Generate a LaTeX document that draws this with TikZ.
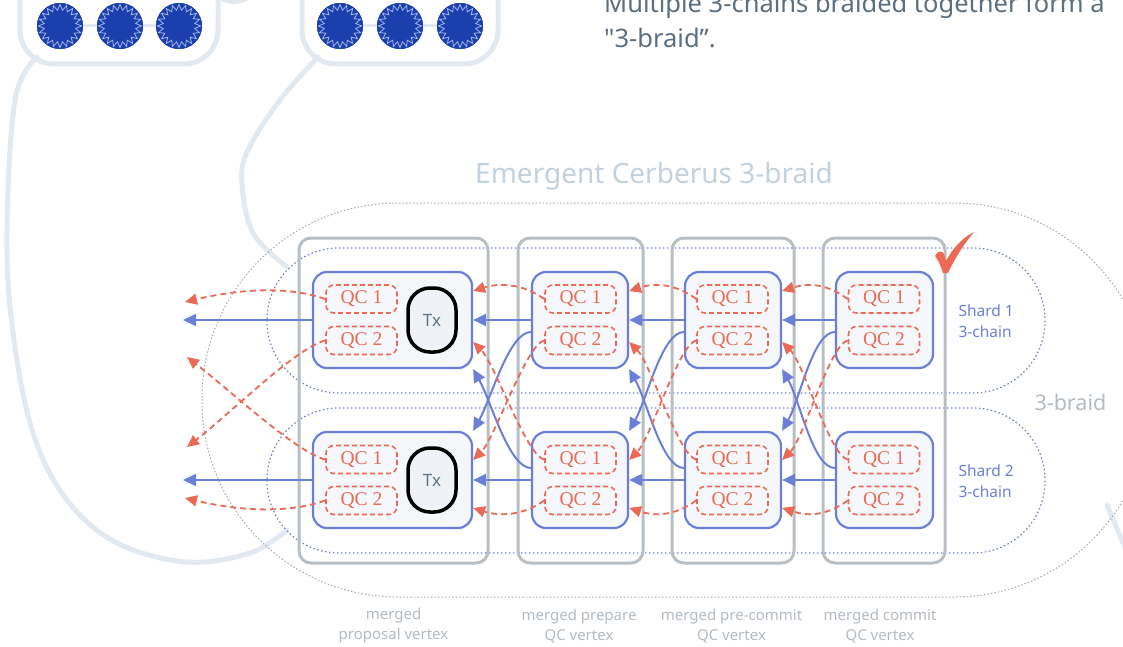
\documentclass[tikz,border=0pt]{standalone}
\usepackage{fontspec}
\setmainfont{Liberation Serif}
\newfontfamily\plex{Noto Sans}
\usetikzlibrary{arrows.meta,calc,shapes.geometric}
\definecolor{cblue}{HTML}{6B7FD7}
\definecolor{cred}{HTML}{EA6A55}
\definecolor{cgrey}{HTML}{B7BFC5}
\definecolor{cfill}{HTML}{F5F7FA}
\definecolor{txfill}{HTML}{EEF2F6}
\definecolor{txtxt}{HTML}{5D7383}
\definecolor{dotgrey}{HTML}{A3AAB0}
\definecolor{ctitle}{HTML}{C3D1DC}
\definecolor{clabel}{HTML}{B3BBC2}
\definecolor{ctop}{HTML}{5B6F80}
\definecolor{cline}{HTML}{E2E9F1}
\definecolor{cdisc}{HTML}{1B40AE}
\definecolor{cstar}{HTML}{A5B6EA}
\tikzset{
 colbox/.style={draw=cgrey, line width=3pt, rounded corners=12pt, minimum width=122pt, minimum height=325pt, inner sep=0pt},
 vbox/.style={draw=cblue, fill=cfill, line width=2.2pt, rounded corners=14pt, minimum width=96pt, minimum height=96pt, inner sep=0pt},
 qcbox/.style={draw=cred, dash pattern=on 5pt off 3pt, line width=1.6pt, rounded corners=8pt, minimum width=71pt, minimum height=28pt, inner sep=0pt, text=cred, font=\fontsize{19.5}{19.5}\selectfont},
 txbox/.style={draw=black, fill=txfill, line width=3.5pt, rounded corners=22pt, minimum width=48pt, minimum height=64pt, inner sep=0pt, text=txtxt, font=\plex\fontsize{17}{17}\selectfont},
 barrow/.style={draw=cblue, line width=2pt, -{Triangle[length=13pt,width=12pt]}},
 rarrow/.style={draw=cred, line width=1.8pt, dash pattern=on 6pt off 4pt, -{Triangle[length=12pt,width=11pt]}},
 shard/.style={draw=cblue, line width=1.2pt, dash pattern=on 1.5pt off 2.5pt, rounded corners=72pt},
 braid/.style={draw=dotgrey, line width=1pt, dash pattern=on 1.5pt off 2pt, rounded corners=196pt},
 deco/.style={draw=cline, line width=5pt, line cap=round},
 lbl/.style={text=clabel, font=\plex\fontsize{15}{20}\selectfont, align=center},
 disc/.style={circle, fill=cdisc, minimum size=46pt, inner sep=0pt},
 discstar/.style={star, star points=20, star point ratio=1.35, draw=cstar, line width=0.8pt, minimum size=43pt, inner sep=0pt},
}
\begin{document}
\begin{tikzpicture}[x=1pt,y=-1pt]
\useasboundingbox (0,0) rectangle (1123,647);
\clip (0,0) rectangle (1123,647);

% decorative light lines
\draw[deco, rounded corners=34pt] (20,-60) rectangle (218,64);
\draw[deco, rounded corners=34pt] (302,-60) rectangle (498,64);
\draw[deco] plot[smooth, tension=0.6] coordinates {(37,57) (15,100) (7,233) (13,333) (33,433) (67,500) (117,543) (187,562) (250,553) (287,530)};
\draw[deco] plot[smooth, tension=0.6] coordinates {(318,57) (280,100) (248,150) (242,183) (253,233) (287,267)};
\draw[deco] (1107,505) -- (1127,552);
\draw[deco] (220,-3) .. controls (228,3) and (240,3) .. (248,-3);

% discs
\foreach \i/\cx in {1/60,2/120,3/179,4/340,5/400,6/460}{
  \node[disc] (d\i) at (\cx,26) {};
}
\draw[cline, line width=3pt] (d1) -- (d2) -- (d3);
\draw[cline, line width=3pt] (d4) -- (d5) -- (d6);
\foreach \i in {1,...,6}{
  \node[disc] at (d\i) {};
  \node[discstar] (s\i) at (d\i) {};
}

% top text
\node[anchor=base west, text=ctop, font=\plex\fontsize{25.5}{30}\selectfont, inner sep=0pt] (t1) at (604,13) {Multiple 3-chains braided together form a};
\node[anchor=base west, text=ctop, font=\plex\fontsize{25.5}{30}\selectfont, inner sep=0pt] (t2) at (604,48) {"3-braid”.};

% title
\node[text=ctitle, font=\plex\fontsize{28}{28}\selectfont] (title) at (654,176) {Emergent Cerberus 3-braid};

% outlines
\draw[braid] (202,203) rectangle (1150,597);
\draw[shard] (267,248) rectangle (1045,393);
\draw[shard] (267,408) rectangle (1045,553);

% columns
\node[colbox, minimum width=189pt] (c1) at (393.5,400.5) {};
\node[colbox, minimum width=125pt] (c2) at (580.5,400.5) {};
\node[colbox] (c3) at (733,400.5) {};
\node[colbox] (c4) at (884,400.5) {};

% vertex boxes
\node[vbox, minimum width=159pt] (a1) at (392.5,320) {};
\node[vbox] (a2) at (580,320) {};
\node[vbox] (a3) at (733,320) {};
\node[vbox, minimum width=97pt] (a4) at (884.5,320) {};
\node[vbox, minimum width=159pt] (b1) at (392.5,480) {};
\node[vbox] (b2) at (580,480) {};
\node[vbox] (b3) at (733,480) {};
\node[vbox, minimum width=97pt] (b4) at (884.5,480) {};

% QC boxes
\foreach \n/\qx in {1/361.5,2/580.5,3/732.5,4/884}{
  \node[qcbox] (qa\n1) at (\qx,299) {QC 1};
  \node[qcbox] (qa\n2) at (\qx,340.5) {QC 2};
  \node[qcbox] (qb\n1) at (\qx,459.5) {QC 1};
  \node[qcbox] (qb\n2) at (\qx,500.5) {QC 2};
}
\node[txbox] (txa) at (432,320) {Tx};
\node[txbox] (txb) at (432,480) {Tx};

% connectors between columns
\foreach \n/\p in {2/1,3/2,4/3}{
  \draw[barrow] (a\n.west) -- (a\p.east);
  \draw[barrow] (b\n.west) -- (b\p.east);
  \draw[barrow] ([yshift=-12pt]a\n.west) .. controls +(-22,0) and +(18,-32) .. (b\p.north east);
  \draw[barrow] ([yshift=12pt]b\n.west) .. controls +(-22,0) and +(18,32) .. (a\p.south east);
  \draw[rarrow] (qa\n1.west) .. controls +(-22,-16) and +(25,-8) .. ([yshift=29pt]a\p.east);
  \draw[rarrow] (qa\n2.west) .. controls +(-18,4) and +(22,-22) .. ([yshift=20pt]b\p.east);
  \draw[rarrow] (qb\n1.west) .. controls +(-18,-4) and +(22,22) .. ([yshift=-22pt]a\p.east);
  \draw[rarrow] (qb\n2.west) .. controls +(-22,16) and +(25,8) .. ([yshift=-28pt]b\p.east);
}

% outgoing connectors
\coordinate (o1) at (185,302);
\coordinate (o2) at (187,357);
\coordinate (o3) at (187,447);
\coordinate (o4) at (185,498);
\coordinate (ob1) at (183,320);
\coordinate (ob2) at (183,480);
\draw[barrow] (a1.west) -- (ob1);
\draw[barrow] (b1.west) -- (ob2);
\draw[rarrow] (qa11.west) .. controls +(-40,-14) and +(50,-12) .. (o1);
\draw[rarrow] (qa12.west) .. controls +(-30,8) and +(45,-35) .. (o3);
\draw[rarrow] (qb11.west) .. controls +(-30,-8) and +(45,35) .. (o2);
\draw[rarrow] (qb12.west) .. controls +(-40,14) and +(50,12) .. (o4);

% checkmark
\fill[cred] (935,256) .. controls (937,251) and (942,250) .. (944,254) -- (946,261)
  .. controls (953,248) and (962,238) .. (974,232)
  .. controls (964,244) and (955,258) .. (948,273) -- (943,273)
  .. controls (941,266) and (938,260) .. cycle;

% labels
\node[anchor=west, text=cblue, font=\plex\fontsize{15.5}{21}\selectfont, align=left] (sh1) at (955,321) {Shard 1\\3-chain};
\node[anchor=west, text=cblue, font=\plex\fontsize{15.5}{21}\selectfont, align=left] (sh2) at (955,481) {Shard 2\\3-chain};
\node[anchor=west, text=clabel, font=\plex\fontsize{21.5}{21.5}\selectfont] (br) at (1031,402) {3-braid};

\node[lbl] (l1) at (393.5,626) {merged\\proposal vertex};
\node[lbl] (l2) at (579,626) {merged prepare\\QC vertex};
\node[lbl] (l3) at (731.5,626) {merged pre-commit\\QC vertex};
\node[lbl] (l4) at (880,626) {merged commit\\QC vertex};
\end{tikzpicture}
\end{document}
